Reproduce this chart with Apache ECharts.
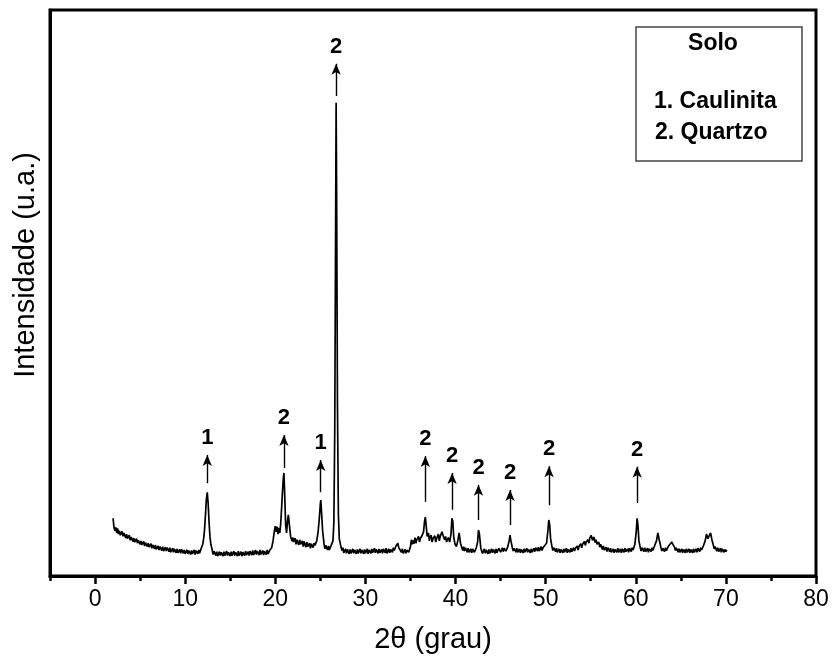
<!DOCTYPE html>
<html>
<head>
<meta charset="utf-8">
<script src="https://cdn.jsdelivr.net/npm/echarts@6/dist/echarts.min.js"></script>
<style>html,body{margin:0;padding:0;background:#fff;}#c{width:832px;height:667px;}</style>
</head>
<body>
<div id="c"></div>
<script>
// ---- data (2θ in degrees, intensity in arbitrary units) ----
var lowAngle = [[2.0,102],[2.05,94],[2.1,86],[2.2,80],[2.3,86],[2.4,76],[2.5,84],[2.6,74],[2.7,80],[2.8,72],[3.0,79],[3.1,70],[3.2,76],[3.4,67],[3.5,74],[3.6,66],[3.8,72],[3.9,63],[4.0,69],[4.2,61],[4.3,67],[4.4,60],[4.6,66],[4.7,58],[4.8,63],[5.0,56],[5.1,62],[5.2,55],[5.4,61],[5.5,53],[5.6,59],[5.8,52],[5.9,58],[6.0,51],[6.2,57],[6.3,49],[6.4,55],[6.6,48],[6.7,55],[6.8,47],[7.0,53],[7.1,46],[7.2,52],[7.4,45],[7.5,52],[7.6,44],[7.8,51],[7.9,44],[8.0,50],[8.2,43],[8.3,50],[8.4,42],[8.6,49],[8.7,42],[8.8,48],[9.0,41],[9.1,48],[9.2,41],[9.4,47],[9.5,40],[9.6,47],[9.8,40],[9.9,46],[10.0,39],[10.2,46],[10.3,39],[10.4,45],[10.6,38],[10.7,45],[10.8,39],[11.0,46],[11.1,38],[11.2,45],[11.4,39],[11.5,46],[11.6,40]];
var kaoliniteRegion = [[11.8,50],[11.95,56],[12.05,66],[12.15,82],[12.25,108],[12.35,135],[12.45,148],[12.55,128],[12.65,95],[12.75,70],[12.85,56],[13.0,46],[13.1,38],[13.2,44],[13.4,36],[13.5,43],[13.6,35],[13.8,43],[13.9,36],[14.0,42],[14.2,35],[14.3,43],[14.4,36],[14.6,44],[14.7,36],[14.8,42],[15.0,35],[15.1,43],[15.2,36],[15.4,44],[15.5,36],[15.6,42],[15.8,35],[15.9,44],[16.0,36],[16.2,43],[16.3,35],[16.4,42],[16.6,36],[16.7,44],[16.8,37],[17.0,43],[17.1,36],[17.2,44],[17.4,37],[17.5,45],[17.6,37],[17.8,46],[17.9,38],[18.0,44],[18.2,37],[18.3,46],[18.4,38],[18.6,45],[18.7,37],[18.8,44],[19.0,38],[19.1,46],[19.2,39],[19.4,46],[19.6,50],[19.75,62],[19.9,80],[20.0,88],[20.1,78],[20.2,87],[20.3,74],[20.4,85],[20.5,76],[20.6,92],[20.7,120],[20.8,150],[20.9,175],[20.96,182],[21.05,140],[21.15,90],[21.25,76],[21.35,96],[21.45,108],[21.55,92],[21.7,70],[21.85,62],[21.95,68],[22.0,60],[22.2,67],[22.3,56],[22.4,64],[22.6,55],[22.7,64],[22.8,56],[23.0,62],[23.1,52],[23.2,61],[23.4,51],[23.5,60],[23.6,52],[23.8,58],[23.9,49],[24.0,57],[24.2,50],[24.3,58],[24.4,54],[24.6,62],[24.75,78],[24.9,105],[25.0,128],[25.05,134],[25.15,108],[25.25,80],[25.4,58],[25.5,48],[25.6,54],[25.8,46],[25.9,53],[26.0,46],[26.2,54],[26.4,62]];
var quartzMain = [[26.5,95],[26.6,260],[26.7,640],[26.75,836],[26.8,700],[26.9,300],[27.0,110],[27.1,66],[27.25,54],[27.4,45]];
var midAngle = [[27.5,50],[27.6,41],[27.8,48],[27.9,40],[28.0,47],[28.2,39],[28.3,47],[28.4,40],[28.6,48],[28.7,40],[28.8,46],[29.0,39],[29.1,47],[29.2,40],[29.4,48],[29.5,40],[29.6,46],[29.8,39],[29.9,47],[30.0,40],[30.2,48],[30.3,39],[30.4,46],[30.6,40],[30.7,48],[30.8,41],[31.0,49],[31.1,41],[31.2,47],[31.4,40],[31.5,48],[31.6,41],[31.8,47],[31.9,40],[32.0,48],[32.2,41],[32.3,49],[32.4,40],[32.6,48],[32.7,41],[32.8,47],[33.0,42],[33.1,50],[33.2,45],[33.4,53],[33.6,58],[33.7,50],[33.8,47],[34.0,42],[34.1,48],[34.2,40],[34.4,47],[34.5,40],[34.6,46],[34.8,42],[35.0,52],[35.1,64],[35.2,56],[35.3,63],[35.4,57],[35.5,68],[35.6,58],[35.7,64],[35.9,70],[36.0,60],[36.1,66],[36.3,72],[36.45,78],[36.55,95],[36.65,104],[36.75,88],[36.85,70],[37.0,76],[37.1,62],[37.15,68],[37.3,72],[37.4,60],[37.5,66],[37.7,71],[37.8,60],[37.9,66],[38.1,74],[38.2,62],[38.3,70],[38.5,78],[38.65,70],[38.8,64],[38.9,70],[39.0,60],[39.2,68],[39.35,60],[39.5,75],[39.6,102],[39.7,96],[39.8,68],[39.95,56],[40.1,52],[40.25,62],[40.4,76],[40.55,58],[40.7,50],[40.8,45],[40.9,52],[41.0,44],[41.1,50],[41.3,42],[41.4,49],[41.5,42],[41.7,48],[41.8,41],[41.9,48],[42.1,42],[42.3,50],[42.45,60],[42.55,81],[42.65,74],[42.8,50],[42.9,44],[43.0,40],[43.2,48],[43.3,40],[43.4,46],[43.6,39],[43.7,47],[43.8,40],[44.0,48],[44.1,41],[44.2,47],[44.4,40],[44.5,48],[44.6,41],[44.8,49]];
var highAngle = [[45.0,42],[45.2,50],[45.3,43],[45.4,49],[45.6,44],[45.8,52],[45.95,62],[46.05,72],[46.15,62],[46.3,50],[46.4,44],[46.5,49],[46.7,42],[46.8,49],[46.9,42],[47.1,48],[47.2,41],[47.3,47],[47.5,41],[47.6,48],[47.7,42],[47.9,49],[48.0,42],[48.1,47],[48.3,41],[48.4,48],[48.5,42],[48.7,49],[48.8,43],[48.9,50],[49.1,44],[49.2,51],[49.3,44],[49.5,52],[49.6,45],[49.7,50],[49.9,54],[50.1,58],[50.25,80],[50.35,99],[50.45,90],[50.55,66],[50.7,52],[50.8,45],[50.9,50],[51.1,43],[51.2,49],[51.3,42],[51.5,48],[51.6,41],[51.7,47],[51.9,41],[52.0,48],[52.1,42],[52.3,49],[52.4,41],[52.5,47],[52.7,42],[52.8,49],[52.9,43],[53.1,50],[53.2,44],[53.3,49],[53.5,53],[53.6,46],[53.7,52],[53.9,57],[54.0,50],[54.1,56],[54.3,61],[54.4,54],[54.5,60],[54.7,64],[54.8,58],[54.9,67],[55.05,72],[55.2,63],[55.35,69],[55.5,59],[55.6,64],[55.7,56],[55.9,60],[56.0,51],[56.1,56],[56.3,47],[56.4,53],[56.5,46],[56.7,51],[56.8,43],[56.9,50],[57.1,43],[57.2,49],[57.3,42],[57.5,48],[57.6,41],[57.7,47],[57.9,42],[58.0,49],[58.1,42],[58.3,48],[58.4,41],[58.5,48],[58.7,42],[58.8,49],[58.9,43],[59.1,48],[59.2,42],[59.3,49],[59.5,43],[59.6,50],[59.7,46],[59.9,56],[60.05,78],[60.15,102],[60.25,88],[60.35,62],[60.5,50],[60.6,44],[60.7,50],[60.9,43],[61.0,50],[61.1,43],[61.3,49],[61.4,42],[61.5,48],[61.7,43],[61.8,50],[61.9,45],[62.1,54],[62.3,62],[62.45,76],[62.6,64],[62.8,50],[62.9,44],[63.0,49],[63.2,43],[63.3,50],[63.4,45],[63.6,52],[63.8,54],[64.0,60],[64.15,55],[64.3,51],[64.4,45],[64.5,50],[64.7,42],[64.8,48],[64.9,42],[65.1,48],[65.2,41],[65.3,47],[65.5,41],[65.6,48],[65.7,42],[65.9,48],[66.0,41],[66.1,47],[66.3,41],[66.4,48],[66.5,42],[66.7,48],[66.8,42],[66.9,49],[67.1,43],[67.2,50],[67.3,46],[67.5,53],[67.7,62],[67.85,74],[68.0,66],[68.15,69],[68.3,76],[68.45,64],[68.6,55],[68.7,48],[68.8,52],[69.0,44],[69.1,50],[69.2,43],[69.4,49],[69.5,42],[69.6,48],[69.8,42],[69.9,47],[70.0,43],[70.1,46]];

// peak annotations
var markAngles = [12.45, 20.96, 25.04, 26.75, 36.65, 39.62, 42.55, 46.05, 50.38, 60.15];
var markLabels = ['1', '2', '1', '2', '2', '2', '2', '2', '2', '2'];
var arrowTail  = [164, 191, 148, 848, 131, 117, 99, 90, 125, 129];
var arrowTip   = [214, 249, 205, 905, 212, 182, 161, 152, 194, 193];

var majorTicks = [0, 10, 20, 30, 40, 50, 60, 70, 80];
var minorTicks = [-5, 5, 15, 25, 35, 45, 55, 65, 75];
var legendTitle = 'Solo';
var legendLines = ['1. Caulinita', '2. Quartzo'];

var pattern = [].concat(lowAngle, kaoliniteRegion, quartzMain, midAngle, highAngle);

var markData = markAngles.map(function (x, i) {
  return [
    { coord: [x, arrowTail[i]], name: markLabels[i] },
    { coord: [x, arrowTip[i]], name: markLabels[i] }
  ];
});

var chart = echarts.init(document.getElementById('c'), null, { renderer: 'canvas' });
var FONT = "'Liberation Sans', Arial, sans-serif";

chart.setOption({
  animation: false,
  backgroundColor: '#fff',
  grid: { left: 50, right: 16, top: 10, bottom: 91, show: true, borderColor: '#000', borderWidth: 3 },
  xAxis: [{
    type: 'value', min: -5, max: 80, position: 'bottom',
    axisLine: { show: true, onZero: false, lineStyle: { color: '#000', width: 3 } },
    axisTick: { show: true, customValues: majorTicks, length: 8, lineStyle: { color: '#000', width: 2.5 } },
    axisLabel: { show: true, customValues: majorTicks, color: '#000', fontFamily: FONT, fontSize: 23, margin: 12 },
    splitLine: { show: false }
  }, {
    type: 'value', min: -5, max: 80, position: 'bottom',
    axisLine: { show: false, onZero: false },
    axisTick: { show: true, customValues: minorTicks, length: 5, lineStyle: { color: '#000', width: 2.5 } },
    axisLabel: { show: false },
    splitLine: { show: false }
  }],
  yAxis: {
    type: 'value', min: 0, max: 1000,
    axisLine: { show: true, onZero: false, lineStyle: { color: '#000', width: 3 } },
    axisTick: { show: false }, axisLabel: { show: false }, splitLine: { show: false }
  },
  series: [{
    type: 'line',
    data: pattern,
    showSymbol: false,
    symbol: 'none',
    lineStyle: { color: '#000', width: 1.7 },
    silent: true,
    markLine: {
      silent: true,
      symbol: ['none', 'arrow'],
      symbolSize: [7, 11],
      lineStyle: { color: '#000', width: 1.4, type: 'solid' },
      label: {
        show: true, position: 'end', formatter: '{b}', distance: 6,
        color: '#000', fontFamily: FONT, fontWeight: 'bold', fontSize: 22
      },
      data: markData
    }
  }],
  graphic: [
    { type: 'text', x: 26, y: 265, rotation: Math.PI / 2,
      style: { text: 'Intensidade (u.a.)', fill: '#000', font: '29px ' + FONT, textAlign: 'center', textVerticalAlign: 'middle' } },
    { type: 'text', x: 433, y: 640,
      style: { text: '2θ (grau)', fill: '#000', font: '29px ' + FONT, textAlign: 'center', textVerticalAlign: 'middle' } },
    { type: 'rect', shape: { x: 636, y: 27, width: 166, height: 134 },
      style: { fill: '#fff', stroke: '#444', lineWidth: 1.5 } },
    { type: 'text', x: 713, y: 44,
      style: { text: legendTitle, fill: '#000', font: 'bold 23px ' + FONT, textAlign: 'center', textVerticalAlign: 'middle' } },
    { type: 'text', x: 654, y: 102,
      style: { text: legendLines[0], fill: '#000', font: 'bold 23px ' + FONT, textAlign: 'left', textVerticalAlign: 'middle' } },
    { type: 'text', x: 655, y: 133,
      style: { text: legendLines[1], fill: '#000', font: 'bold 23px ' + FONT, textAlign: 'left', textVerticalAlign: 'middle' } }
  ]
});
</script>
</body>
</html>
